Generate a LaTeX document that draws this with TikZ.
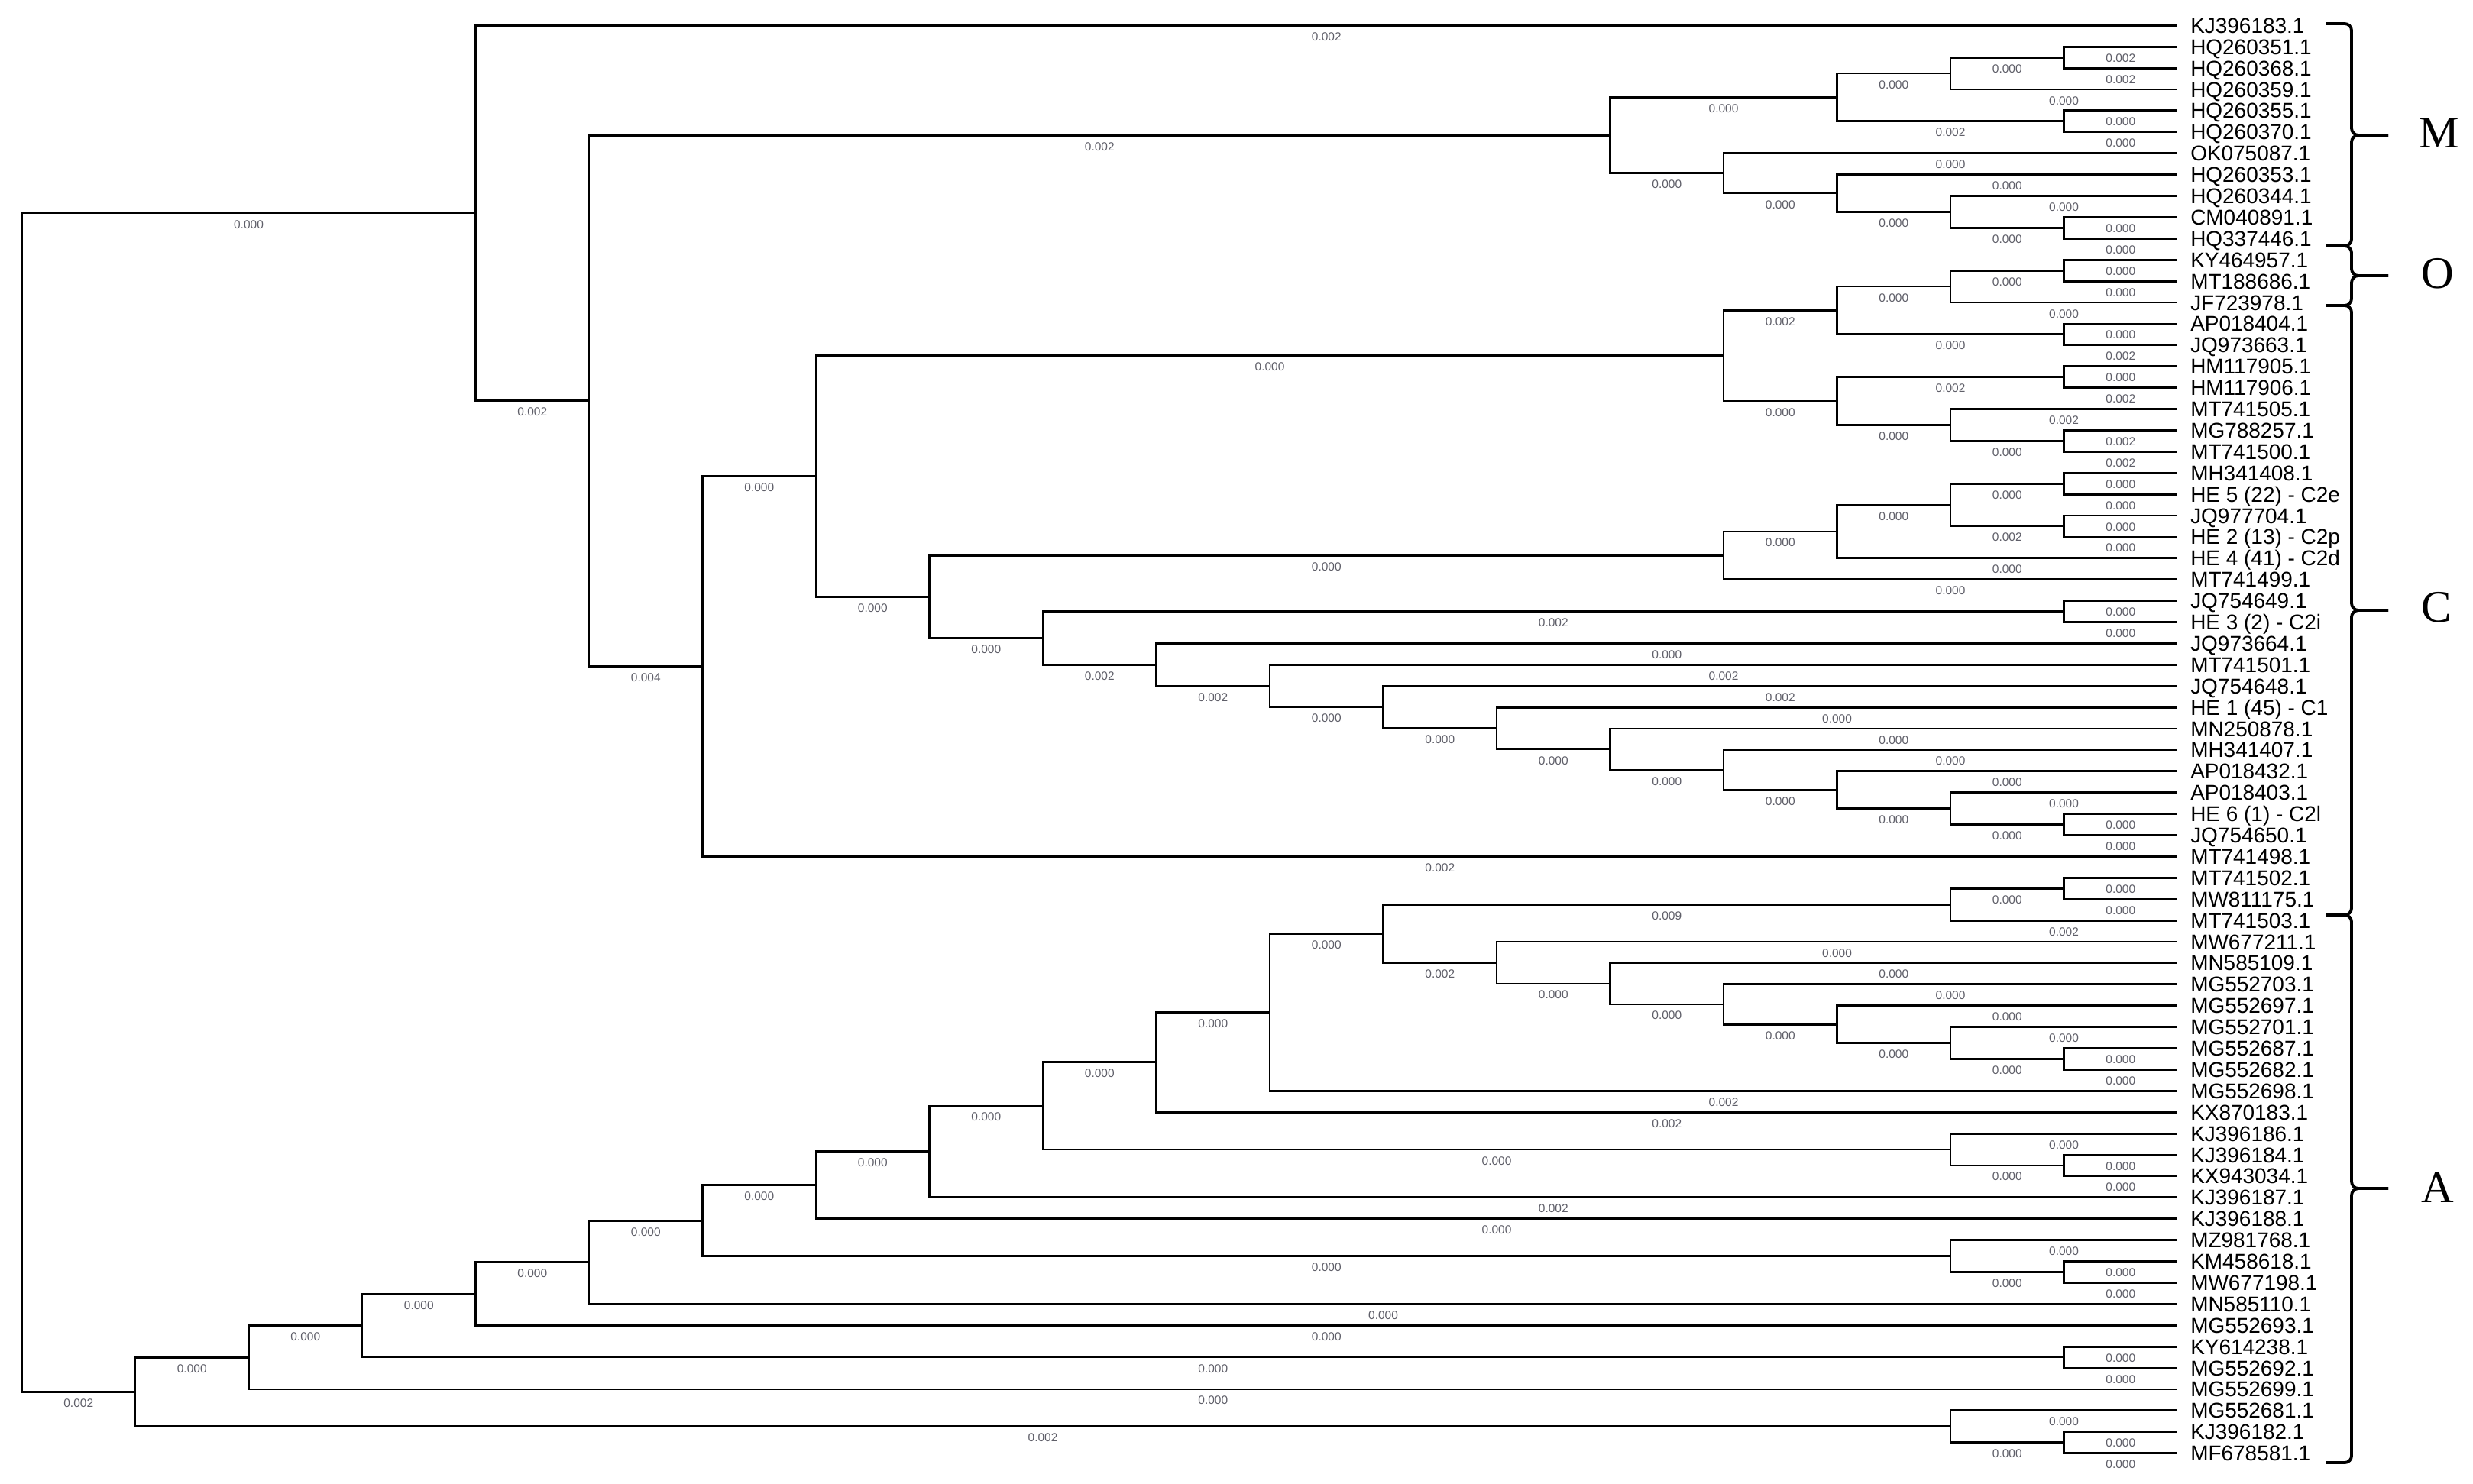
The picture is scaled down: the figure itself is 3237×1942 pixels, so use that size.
\documentclass[tikz,border=0pt]{standalone}
\usepackage{fontspec}
\setmainfont{Liberation Sans}
\newfontfamily\cladeserif{Liberation Serif}
\usetikzlibrary{calc}
\definecolor{labc}{RGB}{95,95,105}
\newcommand\inode[4]{\coordinate (tmp#1) at ($(#3)!0.5!(#4)$);\coordinate (#1) at (tmp#1 -| H#2);}
\newcommand\kids[5]{\draw[br] (#1) |- node[lab]{#3} (#2);\draw[br] (#1) |- node[lab]{#5} (#4);}
\begin{document}
\begin{tikzpicture}[x=0.01cm,y=-0.01cm,
  br/.style={line width=0.8pt,black},
  lab/.style={pos=0.75,anchor=base,yshift=-0.2cm,inner sep=0pt,text=labc,font=\fontsize{4.4}{5}\selectfont},
  leaf/.style={anchor=base west,xshift=0.165cm,yshift=-0.1cm,inner sep=0pt,font=\fontsize{7.95}{9}\selectfont},
  brc/.style={line width=1.1pt,rounded corners=0.09cm},
  clade/.style={anchor=base west,inner sep=0pt,font=\cladeserif\fontsize{16.8}{18}\selectfont}]
\fill[white] (0,0) rectangle (3237,1942);
\useasboundingbox (0,0) rectangle (3237,1942);
% height levels
\foreach \h in {0,...,19} \coordinate (H\h) at ({2850-148.5*\h},0);
% leaves
\foreach \i/\nm in {0/KJ396183.1,1/HQ260351.1,2/HQ260368.1,3/HQ260359.1,4/HQ260355.1,5/HQ260370.1,
  6/OK075087.1,7/HQ260353.1,8/HQ260344.1,9/CM040891.1,10/HQ337446.1,11/KY464957.1,12/MT188686.1,
  13/JF723978.1,14/AP018404.1,15/JQ973663.1,16/HM117905.1,17/HM117906.1,18/MT741505.1,19/MG788257.1,
  20/MT741500.1,21/MH341408.1,22/HE 5 (22) - C2e,23/JQ977704.1,24/HE 2 (13) - C2p,25/HE 4 (41) - C2d,
  26/MT741499.1,27/JQ754649.1,28/HE 3 (2) - C2i,29/JQ973664.1,30/MT741501.1,31/JQ754648.1,
  32/HE 1 (45) - C1,33/MN250878.1,34/MH341407.1,35/AP018432.1,36/AP018403.1,37/HE 6 (1) - C2l,
  38/JQ754650.1,39/MT741498.1,40/MT741502.1,41/MW811175.1,42/MT741503.1,43/MW677211.1,44/MN585109.1,
  45/MG552703.1,46/MG552697.1,47/MG552701.1,48/MG552687.1,49/MG552682.1,50/MG552698.1,51/KX870183.1,
  52/KJ396186.1,53/KJ396184.1,54/KX943034.1,55/KJ396187.1,56/KJ396188.1,57/MZ981768.1,58/KM458618.1,
  59/MW677198.1,60/MN585110.1,61/MG552693.1,62/KY614238.1,63/MG552692.1,64/MG552699.1,65/MG552681.1,
  66/KJ396182.1,67/MF678581.1}
  {\coordinate (L\i) at (2850,{33.3+27.9*\i});
   \node[leaf] (t\i) at (L\i) {\nm};}
% ---- internal nodes: M clade
\inode{c351}{1}{L1}{L2}
\inode{n359}{2}{c351}{L3}
\inode{c355}{1}{L4}{L5}
\inode{Mt}{3}{n359}{c355}
\inode{cCM}{1}{L9}{L10}
\inode{n344}{2}{L8}{cCM}
\inode{n353}{3}{L7}{n344}
\inode{Mb}{4}{L6}{n353}
\inode{Mc}{5}{Mt}{Mb}
% ---- O and upper C
\inode{cKY}{1}{L11}{L12}
\inode{nJF}{2}{cKY}{L13}
\inode{cAP}{1}{L14}{L15}
\inode{OCt}{3}{nJF}{cAP}
\inode{cHM}{1}{L16}{L17}
\inode{cMG}{1}{L19}{L20}
\inode{nMTa}{2}{L18}{cMG}
\inode{OCb}{3}{cHM}{nMTa}
\inode{OC}{4}{OCt}{OCb}
% ---- C2 group
\inode{cMH}{1}{L21}{L22}
\inode{cJQs}{1}{L23}{L24}
\inode{nCa}{2}{cMH}{cJQs}
\inode{nCb}{3}{nCa}{L25}
\inode{CC}{4}{nCb}{L26}
% ---- C chain
\inode{cJQn}{1}{L27}{L28}
\inode{cHEs}{1}{L37}{L38}
\inode{Xn}{2}{L36}{cHEs}
\inode{Xm}{3}{L35}{Xn}
\inode{Xl}{4}{L34}{Xm}
\inode{Xk}{5}{L33}{Xl}
\inode{Xj}{6}{L32}{Xk}
\inode{Xi}{7}{L31}{Xj}
\inode{Xh}{8}{L30}{Xi}
\inode{Xg}{9}{L29}{Xh}
\inode{Xf}{10}{cJQn}{Xg}
\inode{Xe}{11}{CC}{Xf}
\inode{Xd}{12}{OC}{Xe}
\inode{Xc}{13}{Xd}{L39}
\inode{Xb}{14}{Mc}{Xc}
\inode{Xa}{15}{L0}{Xb}
% ---- A clade
\inode{cMTb}{1}{L40}{L41}
\inode{nMTc}{2}{cMTb}{L42}
\inode{cMGc}{1}{L48}{L49}
\inode{Bq}{2}{L47}{cMGc}
\inode{Bp}{3}{L46}{Bq}
\inode{Bo}{4}{L45}{Bp}
\inode{Bn}{5}{L44}{Bo}
\inode{Bm}{6}{L43}{Bn}
\inode{Bl}{7}{nMTc}{Bm}
\inode{Bk}{8}{Bl}{L50}
\inode{Bj}{9}{Bk}{L51}
\inode{cKJd}{1}{L53}{L54}
\inode{nKJe}{2}{L52}{cKJd}
\inode{Bi}{10}{Bj}{nKJe}
\inode{Bh}{11}{Bi}{L55}
\inode{Bg}{12}{Bh}{L56}
\inode{cKM}{1}{L58}{L59}
\inode{nMZ}{2}{L57}{cKM}
\inode{Bf}{13}{Bg}{nMZ}
\inode{Be}{14}{Bf}{L60}
\inode{Bd}{15}{Be}{L61}
\inode{cKYb}{1}{L62}{L63}
\inode{Bc}{16}{Bd}{cKYb}
\inode{Bb}{17}{Bc}{L64}
\inode{cKJf}{1}{L66}{L67}
\inode{nMGg}{2}{L65}{cKJf}
\inode{Ba}{18}{Bb}{nMGg}
\inode{R}{19}{Xa}{Ba}
% ---- branches with lengths
\kids{R}{Xa}{0.000}{Ba}{0.002}
\kids{Xa}{L0}{0.002}{Xb}{0.002}
\kids{Xb}{Mc}{0.002}{Xc}{0.004}
\kids{Mc}{Mt}{0.000}{Mb}{0.000}
\kids{Mt}{n359}{0.000}{c355}{0.002}
\kids{n359}{c351}{0.000}{L3}{0.000}
\kids{c351}{L1}{0.002}{L2}{0.002}
\kids{c355}{L4}{0.000}{L5}{0.000}
\kids{Mb}{L6}{0.000}{n353}{0.000}
\kids{n353}{L7}{0.000}{n344}{0.000}
\kids{n344}{L8}{0.000}{cCM}{0.000}
\kids{cCM}{L9}{0.000}{L10}{0.000}
\kids{Xc}{Xd}{0.000}{L39}{0.002}
\kids{Xd}{OC}{0.000}{Xe}{0.000}
\kids{OC}{OCt}{0.002}{OCb}{0.000}
\kids{OCt}{nJF}{0.000}{cAP}{0.000}
\kids{nJF}{cKY}{0.000}{L13}{0.000}
\kids{cKY}{L11}{0.000}{L12}{0.000}
\kids{cAP}{L14}{0.000}{L15}{0.002}
\kids{OCb}{cHM}{0.002}{nMTa}{0.000}
\kids{cHM}{L16}{0.000}{L17}{0.002}
\kids{nMTa}{L18}{0.002}{cMG}{0.000}
\kids{cMG}{L19}{0.002}{L20}{0.002}
\kids{Xe}{CC}{0.000}{Xf}{0.000}
\kids{CC}{nCb}{0.000}{L26}{0.000}
\kids{nCb}{nCa}{0.000}{L25}{0.000}
\kids{nCa}{cMH}{0.000}{cJQs}{0.002}
\kids{cMH}{L21}{0.000}{L22}{0.000}
\kids{cJQs}{L23}{0.000}{L24}{0.000}
\kids{Xf}{cJQn}{0.002}{Xg}{0.002}
\kids{cJQn}{L27}{0.000}{L28}{0.000}
\kids{Xg}{L29}{0.000}{Xh}{0.002}
\kids{Xh}{L30}{0.002}{Xi}{0.000}
\kids{Xi}{L31}{0.002}{Xj}{0.000}
\kids{Xj}{L32}{0.000}{Xk}{0.000}
\kids{Xk}{L33}{0.000}{Xl}{0.000}
\kids{Xl}{L34}{0.000}{Xm}{0.000}
\kids{Xm}{L35}{0.000}{Xn}{0.000}
\kids{Xn}{L36}{0.000}{cHEs}{0.000}
\kids{cHEs}{L37}{0.000}{L38}{0.000}
\kids{Ba}{Bb}{0.000}{nMGg}{0.002}
\kids{nMGg}{L65}{0.000}{cKJf}{0.000}
\kids{cKJf}{L66}{0.000}{L67}{0.000}
\kids{Bb}{Bc}{0.000}{L64}{0.000}
\kids{Bc}{Bd}{0.000}{cKYb}{0.000}
\kids{cKYb}{L62}{0.000}{L63}{0.000}
\kids{Bd}{Be}{0.000}{L61}{0.000}
\kids{Be}{Bf}{0.000}{L60}{0.000}
\kids{Bf}{Bg}{0.000}{nMZ}{0.000}
\kids{nMZ}{L57}{0.000}{cKM}{0.000}
\kids{cKM}{L58}{0.000}{L59}{0.000}
\kids{Bg}{Bh}{0.000}{L56}{0.000}
\kids{Bh}{Bi}{0.000}{L55}{0.002}
\kids{Bi}{Bj}{0.000}{nKJe}{0.000}
\kids{nKJe}{L52}{0.000}{cKJd}{0.000}
\kids{cKJd}{L53}{0.000}{L54}{0.000}
\kids{Bj}{Bk}{0.000}{L51}{0.002}
\kids{Bk}{Bl}{0.000}{L50}{0.002}
\kids{Bl}{nMTc}{0.009}{Bm}{0.002}
\kids{nMTc}{cMTb}{0.000}{L42}{0.002}
\kids{cMTb}{L40}{0.000}{L41}{0.000}
\kids{Bm}{L43}{0.000}{Bn}{0.000}
\kids{Bn}{L44}{0.000}{Bo}{0.000}
\kids{Bo}{L45}{0.000}{Bp}{0.000}
\kids{Bp}{L46}{0.000}{Bq}{0.000}
\kids{Bq}{L47}{0.000}{cMGc}{0.000}
\kids{cMGc}{L48}{0.000}{L49}{0.000}
% ---- clade braces
\draw[brc] (3044,31) -- (3078,31) -- (3078,177) -- (3126,177);
\draw[brc] (3044,322) -- (3078,322) -- (3078,177) -- (3126,177);
\draw[brc] (3044,322) -- (3078,322) -- (3078,361) -- (3126,361);
\draw[brc] (3044,400) -- (3078,400) -- (3078,361) -- (3126,361);
\draw[brc] (3044,400) -- (3078,400) -- (3078,799) -- (3126,799);
\draw[brc] (3044,1198) -- (3078,1198) -- (3078,799) -- (3126,799);
\draw[brc] (3044,1198) -- (3078,1198) -- (3078,1556) -- (3126,1556);
\draw[brc] (3044,1915) -- (3078,1915) -- (3078,1556) -- (3126,1556);
\node[clade] (lM) at (3166,193) {M};
\node[clade] (lO) at (3169,377) {O};
\node[clade] (lC) at (3169,814) {C};
\node[clade] (lA) at (3169,1574) {A};
\end{tikzpicture}
\end{document}
